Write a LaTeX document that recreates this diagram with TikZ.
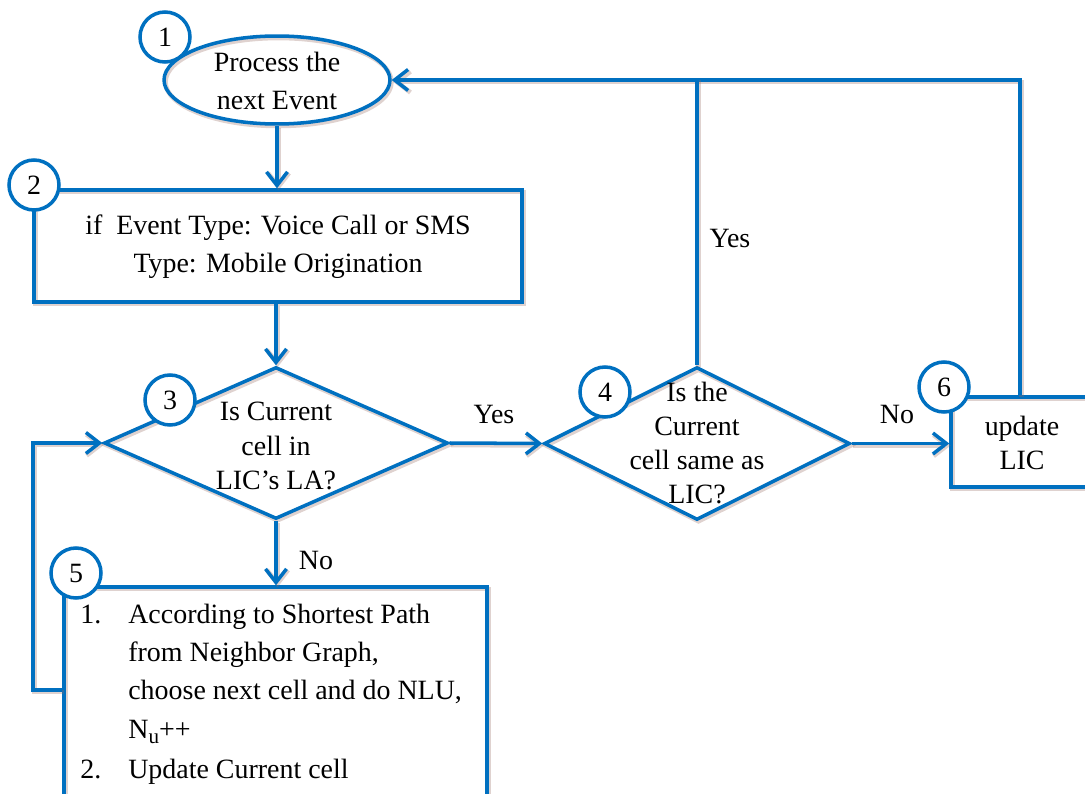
\documentclass[tikz,border=0pt]{standalone}
\usepackage{fontspec}
\setmainfont{Liberation Serif}
\usetikzlibrary{arrows.meta,shapes.geometric}
\definecolor{flowblue}{RGB}{0,112,192}
\definecolor{shadowbrown}{RGB}{150,105,95}

\begin{document}
\begin{tikzpicture}[x=0.02cm,y=-0.02cm,
  every node/.style={font=\fontsize{15.9}{21.5}\selectfont},
  softshadow/.style={preaction={draw=shadowbrown,draw opacity=0.3,line width=2.6pt,
      transform canvas={shift={(1.5,2)}}}},
  line/.style={draw=flowblue,line width=2pt},
  shapebox/.style={line,softshadow,inner sep=0pt},
  arr/.style={line,softshadow,-{Straight Barb[length=0.27cm,width=0.42cm]}},
  plain/.style={line,softshadow},
  txt/.style={inner sep=0pt,align=center},
  tight/.style={txt,font=\fontsize{15.9}{19.4}\selectfont},
  numc/.style={circle,draw=flowblue,line width=2pt,fill=white,minimum size=1.0cm,inner sep=0pt},
  lbl/.style={inner sep=0pt}]

\useasboundingbox (0,0) rectangle (1085,794);
\clip (0,0) rectangle (1085,794);

% shapes
\node[ellipse,shapebox,minimum width=4.52cm,minimum height=1.76cm] (e1) at (277,80) {};
\node[txt] (t1) at (277,81) {Process the\\next Event};

\node[rectangle,shapebox,minimum width=9.76cm,minimum height=2.24cm] (b2) at (278,246) {};
\node[txt] (t2) at (278,247) {if~ Event Type: Voice Call or SMS\\Type: Mobile Origination};

\node[diamond,shapebox,minimum width=6.88cm,minimum height=3.04cm] (d3) at (276,443) {};
\node[tight] (t3) at (276,446) {Is Current\\cell in\\LIC’s LA?};

\node[diamond,shapebox,minimum width=6.12cm,minimum height=3.06cm] (d4) at (697,443.5) {};
\node[tight] (t4) at (697,443) {Is the\\Current\\cell same as\\LIC?};

\node[rectangle,shapebox,minimum width=3.38cm,minimum height=1.8cm] (b6) at (1035.5,442) {};
\node[tight] (t6) at (1022,443) {update\\LIC};

\node[rectangle,shapebox,minimum width=8.46cm,minimum height=4.86cm] (b5) at (275.5,708.5) {};
\node[inner sep=0pt,align=left,anchor=north west,font=\fontsize{15.9}{21.7}\selectfont] (t5) at (80,604)
  {\makebox[0.96cm][l]{1.}According to Shortest Path\\
   \hspace*{0.96cm}from Neighbor Graph,\\
   \hspace*{0.96cm}choose next cell and do NLU,\\
   \hspace*{0.96cm}N\raisebox{-0.45ex}{\fontsize{12}{12}\selectfont u}++\\[1.5pt]
   \makebox[0.96cm][l]{2.}Update Current cell};

% connectors
\coordinate (loopy) at (33,690);
\coordinate (right6) at (1020,0);

\draw[arr] (e1.south) -- (e1.south |- b2.north);
\draw[arr] (d3.north |- b2.south) -- (d3.north);
\draw[arr] (d3.east) -- (d4.west);
\draw[arr] (d4.east) -- (d4.east -| b6.west);
\draw[arr] (d3.south) -- (d3.south |- b5.north);
\draw[arr] (loopy -| b5.west) -- (loopy) |- (d3.west);
\draw[plain] (b6.north -| right6) |- (d4.north |- e1.east);
\draw[arr] (d4.north) |- (e1.east);

% branch labels
\node[lbl] (yes1) at (494,414) {Yes};
\node[lbl] (yes2) at (730,238) {Yes};
\node[lbl] (no1) at (897,414) {No};
\node[lbl] (no2) at (316,560) {No};

% step numbers
\node[numc] (c1) at (165,37) {1};
\node[numc] (c2) at (34,185) {2};
\node[numc] (c3) at (170,400) {3};
\node[numc] (c4) at (605,392) {4};
\node[numc] (c5) at (76,573) {5};
\node[numc] (c6) at (944,387) {6};
\end{tikzpicture}
\end{document}
